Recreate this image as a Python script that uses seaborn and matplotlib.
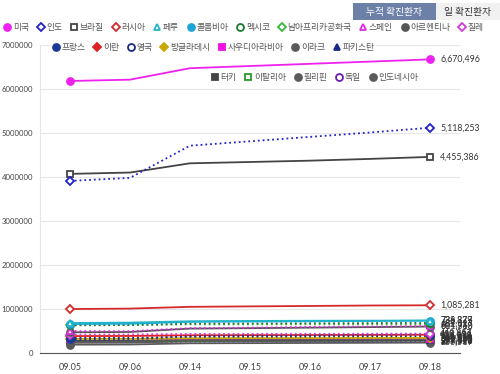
import pandas as pd
import seaborn as sns
import matplotlib.pyplot as plt
from matplotlib.lines import Line2D
from matplotlib.patches import Rectangle

# dates on the x axis
dates = ['09.05', '09.06', '09.14', '09.15', '09.16', '09.17', '09.18']

# cumulative confirmed cases
us = [6180000, 6210000, 6470000, 6520000, 6570000, 6620000, 6670496]
india = [3910000, 3980000, 4710000, 4810000, 4910000, 5010000, 5118253]
brazil = [4070000, 4100000, 4310000, 4340000, 4370000, 4410000, 4455386]
russia = [1000000, 1010000, 1050000, 1060000, 1070000, 1080000, 1085281]
peru = [683702, 691575, 722832, 729619, 733860, 736000, 738829]
colombia = [658456, 666521, 708964, 716319, 721892, 728590, 736377]
mexico = [629409, 634023, 668381, 671716, 676487, 680931, 684113]
south_africa = [636884, 638517, 650749, 651521, 653444, 655572, 657627]
spain = [498989, 498989, 566326, 576697, 593730, 603167, 614360]
argentina = [471806, 478792, 555537, 565446, 577338, 589012, 601713]
chile = [420434, 422510, 434748, 435997, 437983, 439287, 440857]
france = [317706, 317706, 381094, 395104, 404888, 415481, 428696]
iran = [385936, 388810, 404648, 407353, 410334, 413149, 416198]
uk = [344164, 345318, 371125, 374228, 378219, 381614, 385936]
bangladesh = [321615, 323565, 337520, 339332, 341056, 342671, 344264]
saudi = [320688, 321456, 326258, 326930, 327551, 328144, 328720]
iraq = [260370, 264684, 294478, 298712, 304335, 307385, 312320]
pakistan = [298509, 298903, 302424, 302956, 303634, 304386, 305031]
turkey = [276555, 278228, 292878, 294620, 296391, 298039, 299810]
italy = [277634, 279153, 286297, 287753, 288761, 289990, 291442]
philippines = [234570, 237365, 265888, 269407, 272934, 276289, 279526]
germany = [251004, 251760, 261062, 262507, 263663, 265390, 267773]
indonesia = [190665, 194109, 221523, 225030, 228993, 232628, 236519]

y_ticks = [0, 1000000, 2000000, 3000000, 4000000, 5000000, 6000000, 7000000]

# name, values, color, marker, filled, linestyle
series = [
    ('미국', us, '#ee22ee', 'o', True, '-'),
    ('인도', india, '#2222cc', 'D', False, ':'),
    ('브라질', brazil, '#444444', 's', False, '-'),
    ('러시아', russia, '#d42a2a', 'D', False, '-'),
    ('페루', peru, '#22b4c8', '^', False, '-'),
    ('콜롬비아', colombia, '#1ea5d6', 'o', True, '-'),
    ('멕시코', mexico, '#1a7a2e', 'o', False, ':'),
    ('남아프리카공화국', south_africa, '#3cb43c', 'D', False, ':'),
    ('스페인', spain, '#e02ae0', '^', False, ':'),
    ('아르헨티나', argentina, '#555555', 'o', True, '-'),
    ('칠레', chile, '#d03cd8', 'D', False, ':'),
    ('프랑스', france, '#1a3a9a', 'o', True, ':'),
    ('이란', iran, '#e02020', 'D', True, '-'),
    ('영국', uk, '#1a2a80', 'o', False, ':'),
    ('방글라데시', bangladesh, '#c8a800', 'D', True, '-'),
    ('사우디아라비아', saudi, '#f010e0', 's', True, ':'),
    ('이라크', iraq, '#5a5a5a', 'o', True, '-'),
    ('파키스탄', pakistan, '#1a2a8a', '^', True, ':'),
    ('터키', turkey, '#444444', 's', True, '-'),
    ('이탈리아', italy, '#2a9a2a', 's', False, '-'),
    ('필리핀', philippines, '#5a5a5a', 'o', True, '-'),
    ('독일', germany, '#6a1ab8', 'o', False, ':'),
    ('인도네시아', indonesia, '#5a5a5a', 'o', True, '-'),
]

sns.set_style('white')
plt.rcParams['font.family'] = ['Noto Sans CJK KR', 'DejaVu Sans']

fig = plt.figure(figsize=(5, 3.74), dpi=100)
ax = fig.add_axes([0.08, 0.056, 0.84, 0.824])

x = list(range(len(dates)))
handles = []
# draw the smaller series first so the big ones sit on top
for name, vals, color, marker, filled, ls in reversed(series):
    df = pd.DataFrame({'x': x, 'y': vals})
    sns.lineplot(data=df, x='x', y='y', ax=ax, color=color, linestyle=ls, lw=1.3,
                 marker=marker, markevery=[0, len(x) - 1], markersize=5 if marker != 'D' else 4.3,
                 markerfacecolor=color if filled else 'white', markeredgecolor=color,
                 markeredgewidth=1.3)
    ax.text(len(x) - 1 + 0.17, vals[-1], f'{vals[-1]:,}', fontsize=6.3, color='#333333',
            va='center', ha='left', family=['Lato', 'DejaVu Sans'])

for name, vals, color, marker, filled, ls in series:
    handles.append(Line2D([], [], ls='none', marker=marker, color=color,
                          markerfacecolor=color if filled else 'white', markeredgecolor=color,
                          markeredgewidth=1.3, markersize=5 if marker != 'D' else 4.3))

ax.set_xlim(-0.5, 6.5)
ax.set_ylim(0, 7000000)
ax.set_xticks(x)
ax.set_xticklabels(dates, fontsize=6.5, color='#444444', family=['Lato', 'DejaVu Sans'])
ax.set_yticks(y_ticks)
ax.set_yticklabels([str(v) for v in y_ticks], fontsize=5.6, color='#444444', family=['Lato', 'DejaVu Sans'])
ax.set_xlabel('')
ax.set_ylabel('')
ax.grid(axis='y', color='#e6e6e6', lw=0.8)
ax.tick_params(axis='y', length=5, color='#bbbbbb', pad=0)
ax.tick_params(axis='x', length=0, pad=7)
for s in ['top', 'right']:
    ax.spines[s].set_visible(False)
ax.spines['left'].set_color('#e6e6e6')
ax.spines['bottom'].set_color('#555555')

# legend in three rows like the original
rows = [(0, 11, 0.003, 0.943), (11, 18, 0.1, 0.89), (18, 23, 0.418, 0.81)]
for a, b, lx, ly in rows:
    leg = fig.legend(handles[a:b], [s[0] for s in series[a:b]], loc='upper left',
                     bbox_to_anchor=(lx, ly), ncol=b - a, frameon=True, fontsize=6.3,
                     handlelength=0.9, handletextpad=0.2, columnspacing=0.9,
                     borderpad=0.2, borderaxespad=0)
    leg.get_frame().set_facecolor('white')
    leg.get_frame().set_edgecolor('none')
    for t in leg.get_texts():
        t.set_color('#555555')

# tabs at the top right
fig.patches.append(Rectangle((0.706, 0.947), 0.166, 0.045, transform=fig.transFigure,
                             facecolor='#6d80a7', edgecolor='none'))
fig.patches.append(Rectangle((0.872, 0.947), 0.128, 0.045, transform=fig.transFigure,
                             facecolor='#f1f1f1', edgecolor='none'))
fig.text(0.789, 0.968, '누적 확진환자', fontsize=7, color='white', ha='center', va='center')
fig.text(0.936, 0.968, '일 확진환자', fontsize=7, color='#333333', ha='center', va='center')

plt.savefig('out.png', dpi=100)
